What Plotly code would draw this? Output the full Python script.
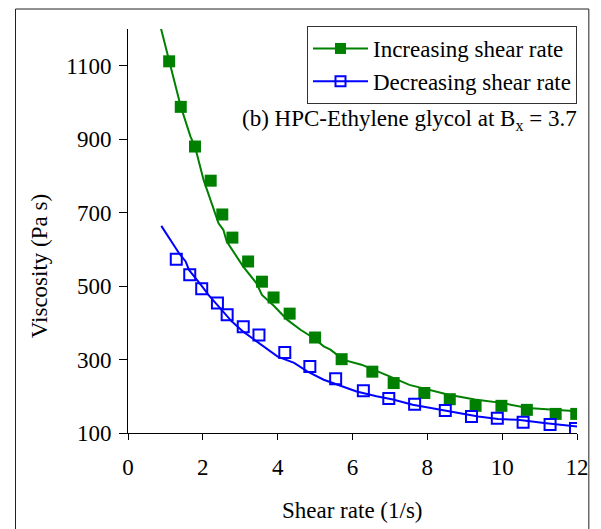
import plotly.graph_objects as go

# Measured points (increasing shear rate)
inc_x = [1.1, 1.41, 1.79, 2.21, 2.52, 2.79, 3.21, 3.58, 3.89, 4.32, 5.0, 5.71, 6.53, 7.10, 7.92, 8.60, 9.29, 9.98, 10.66, 11.43, 11.98]
inc_y = [1112, 988, 880, 787, 695, 632, 567, 512, 469, 425, 360, 301, 267, 236, 209, 192, 174, 174, 163, 152, 152]

# Measured points (decreasing shear rate)
dec_x = [1.29, 1.65, 1.97, 2.39, 2.65, 3.08, 3.50, 4.19, 4.86, 5.55, 6.29, 6.97, 7.66, 8.48, 9.18, 9.87, 10.56, 11.28, 11.96]
dec_y = [573, 531, 493, 454, 422, 389, 367, 319, 281, 248, 215, 194, 178, 161, 145, 140, 129, 123, 112]

# Model curves
inc_fit_x = [0.88, 1.10, 1.41, 1.67, 1.79, 2.02, 2.20, 2.42, 2.55, 2.64, 3.08, 3.43, 3.58, 3.91, 4.26, 4.61, 4.97, 5.23, 5.41, 5.76, 6.24, 6.64, 6.99, 7.52, 8.04, 8.57, 9.27, 9.98, 10.68, 11.38, 12.0]
inc_fit_y = [1202, 1116, 989, 907, 880, 789, 735, 671, 653, 621, 553, 508, 476, 445, 408, 381, 358, 336, 327, 299, 286, 268, 254, 231, 218, 204, 191, 182, 168, 163, 159]

dec_fit_x = [0.89, 1.36, 1.54, 1.63, 1.98, 2.15, 2.42, 2.77, 3.08, 3.30, 3.65, 4.0, 4.44, 4.79, 5.23, 5.76, 6.11, 6.64, 7.08, 7.61, 8.13, 8.83, 9.36, 9.89, 10.42, 11.12, 12.0]
dec_fit_y = [664, 590, 567, 544, 499, 476, 445, 404, 376, 360, 333, 308, 291, 268, 245, 227, 213, 200, 191, 177, 168, 154, 145, 138, 136, 127, 118]

x_ticks = [0, 2, 4, 6, 8, 10, 12]
y_ticks = [100, 300, 500, 700, 900, 1100]

GREEN = "#008000"
BLUE = "#0000FF"
FONT = "Liberation Serif, Times New Roman, serif"
FS = 23

fig = go.Figure()

fig.add_trace(go.Scatter(x=inc_fit_x, y=inc_fit_y, mode="lines",
                         line=dict(color=GREEN, width=2), showlegend=False, hoverinfo="skip"))
fig.add_trace(go.Scatter(x=dec_fit_x, y=dec_fit_y, mode="lines",
                         line=dict(color=BLUE, width=2), showlegend=False, hoverinfo="skip"))
fig.add_trace(go.Scatter(x=inc_x, y=inc_y, mode="markers",
                         marker=dict(symbol="square", size=12, color=GREEN),
                         showlegend=False))
fig.add_trace(go.Scatter(x=dec_x, y=dec_y, mode="markers",
                         marker=dict(symbol="square-open", size=11, color=BLUE, line=dict(width=2)),
                         showlegend=False))
# legend entries
fig.add_trace(go.Scatter(x=[None], y=[None], mode="lines+markers", name="Increasing shear rate",
                         line=dict(color=GREEN, width=2),
                         marker=dict(symbol="square", size=11, color=GREEN)))
fig.add_trace(go.Scatter(x=[None], y=[None], mode="lines+markers", name="Decreasing shear rate",
                         line=dict(color=BLUE, width=2),
                         marker=dict(symbol="square-open", size=10, color=BLUE, line=dict(width=2))))

L, R, T, B = 128, 18, 29, 96
W, H = 601, 529
pw = W - L - R
ph = H - T - B

def px_x(px):
    return (px - L) / pw

def px_y(py):
    return (H - B - py) / ph

fig.update_layout(
    width=W, height=H,
    margin=dict(l=L, r=R, t=T, b=B, pad=0),
    paper_bgcolor="white", plot_bgcolor="white",
    font=dict(family=FONT, size=FS, color="black"),
    xaxis=dict(range=[0, 12], tickvals=x_ticks, showgrid=False, zeroline=False,
               showline=True, linecolor="black", linewidth=1,
               ticks="outside", ticklen=6, tickcolor="black", tickwidth=1,
               tickfont=dict(family=FONT, size=FS), ticklabelstandoff=7),
    yaxis=dict(range=[100, 1200], tickvals=y_ticks, showgrid=False, zeroline=False,
               showline=True, linecolor="black", linewidth=1,
               ticks="outside", ticklen=8, tickcolor="black", tickwidth=1,
               tickfont=dict(family=FONT, size=FS), ticklabelstandoff=3),
    legend=dict(x=1.0, xanchor="right", y=px_y(26), yanchor="top",
                bgcolor="white", bordercolor="#333333", borderwidth=1,
                font=dict(family=FONT, size=FS), tracegroupgap=0, itemwidth=55),
    annotations=[
        dict(text="(b) HPC-Ethylene glycol at B<sub>x</sub> = 3.7", xref="paper", yref="paper",
             x=px_x(585), y=px_y(120), xanchor="right", yanchor="middle", showarrow=False,
             font=dict(family=FONT, size=FS)),
        dict(text="Shear rate (1/s)", xref="paper", yref="paper",
             x=px_x(356), y=px_y(510), xanchor="center", yanchor="middle", showarrow=False,
             font=dict(family=FONT, size=FS)),
        dict(text="Viscosity (Pa s)", xref="paper", yref="paper", textangle=-90,
             x=px_x(38), y=px_y(266), xanchor="center", yanchor="middle", showarrow=False,
             font=dict(family=FONT, size=FS)),
    ],
    shapes=[
        dict(type="rect", xref="paper", yref="paper",
             x0=px_x(14), x1=px_x(595), y0=px_y(560), y1=px_y(9),
             line=dict(color="#222222", width=1), fillcolor="rgba(0,0,0,0)", layer="below"),
    ],
)

fig.write_html("out.html")
